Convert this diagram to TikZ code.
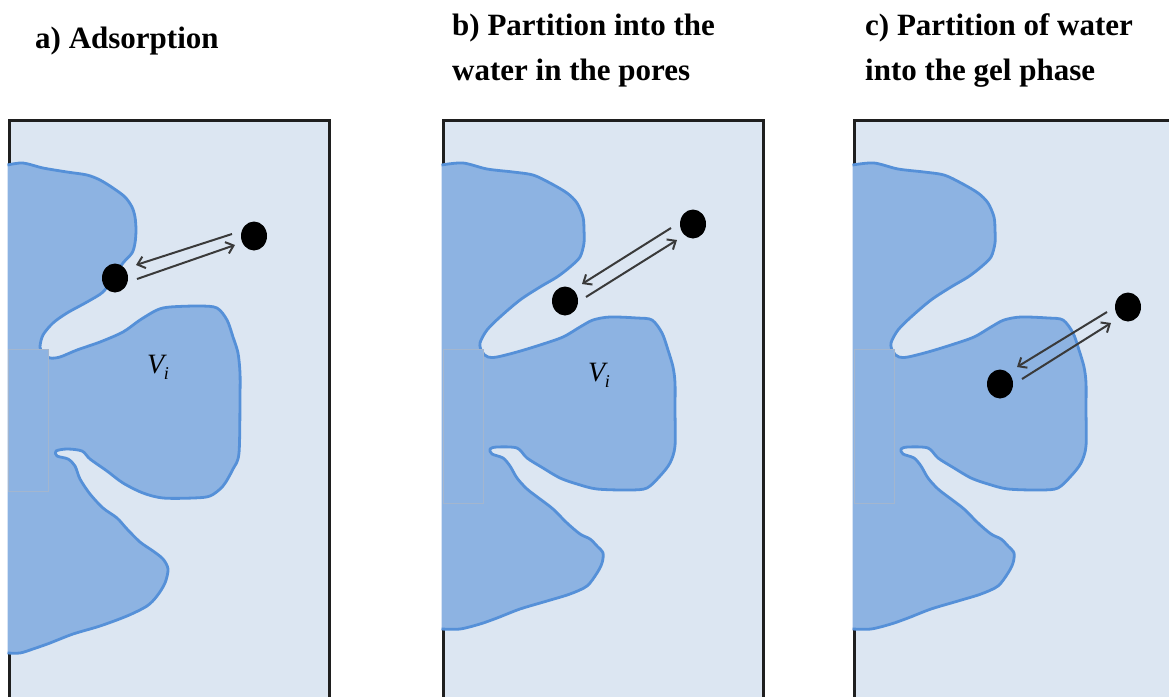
\documentclass[tikz,border=0pt]{standalone}
\usepackage{fontspec}
\setmainfont{Liberation Serif}
\usetikzlibrary{arrows.meta,shapes.geometric}

\definecolor{panelbg}{HTML}{DCE6F2}
\definecolor{gelfill}{HTML}{8DB3E2}
\definecolor{geledge}{HTML}{5590D8}
\definecolor{arrowgray}{HTML}{3A3A3A}
\definecolor{seamgray}{HTML}{A3B6CF}

\tikzset{
  panel/.style={fill=panelbg, draw=black!88, line width=3pt},
  gelbody/.style={fill=gelfill},
  geloutline/.style={draw=geledge, line width=2.8pt, line join=round},
  seam/.style={fill=gelfill, draw=seamgray, line width=0.5pt},
  solute/.style={ellipse, fill=black, draw=none, minimum width=26pt, minimum height=29pt, inner sep=0pt},
  flux/.style={draw=arrowgray, line width=2pt, -{Straight Barb[length=7pt,width=12pt]}},
  title/.style={font=\bfseries\fontsize{31}{36}\selectfont, anchor=base west, inner sep=0pt},
  vol/.style={font=\itshape\fontsize{28}{32}\selectfont, inner sep=0pt}
}

% gel particle of the first panel
\newcommand\gelA[1]{\path[#1] plot[smooth,tension=0.5] coordinates {
  (7.5,165) (23,163) (43,168) (67,172) (87,175) (100,180) (113,188) (125,197)
  (132,207) (135,217) (136,230) (135,243) (132,253) (123,263) (113,278)
  (103,292) (87,302) (67,313) (53,323) (43,335) (40,347) (43,354) (50,358)
  (60,357) (77,350) (100,342) (123,332) (140,320) (157,310) (170,307)
  (200,306) (217,308) (227,320) (233,337) (238,353) (240,373) (240,396)
  (239,453) (233,469) (223,486) (210,496) (193,498) (163,498) (143,493)
  (123,483) (107,471) (90,459) (82,451) (67,449) (56,451) (57,456) (68,459)
  (75,466) (80,479) (90,494) (103,508) (117,518) (127,529) (140,542)
  (153,551) (163,559) (168,569) (165,583) (157,596) (147,606) (127,616)
  (100,626) (73,634) (50,643) (33,649) (20,653) (7.5,653)};}

% gel particle of the second and third panels
\newcommand\gelB[1]{\path[#1] plot[smooth,tension=0.5] coordinates {
  (441.5,165) (463,163) (487,169) (513,172) (533,175) (550,183) (567,193)
  (577,203) (583,217) (584,230) (584,243) (580,257) (570,267) (557,277)
  (540,287) (520,300) (500,317) (487,330) (480,343) (482,352) (488,357)
  (497,357) (517,352) (540,345) (563,337) (580,327) (593,320) (610,317)
  (637,318) (652,320) (662,333) (668,350) (673,367) (675,383) (675,410)
  (675,446) (670,463) (660,476) (647,488) (630,490) (597,489) (577,484)
  (560,478) (543,468) (527,458) (517,448) (497,447) (490,449) (492,454)
  (503,458) (510,466) (517,478) (527,489) (540,499) (553,509) (567,523)
  (580,534) (590,539) (597,546) (603,553) (602,563) (597,573) (587,586)
  (570,594) (547,601) (520,609) (497,618) (480,624) (460,629) (441.5,629)};}

\begin{document}
\begin{tikzpicture}[x=1pt,y=-1pt]
  \useasboundingbox (0,0) rectangle (1169,696);
  \clip (0,0) rectangle (1169,696);

  % titles
  \node[title] (ta)  at (35,48)  {a) Adsorption};
  \node[title] (tb1) at (452,35) {b) Partition into the};
  \node[title] (tb2) at (452,80) {water in the pores};
  \node[title] (tc1) at (865,35) {c) Partition of water};
  \node[title] (tc2) at (865,80) {into the gel phase};

  % panel frames
  \draw[panel] (9,120) rectangle (329,720);
  \draw[panel] (443,120) rectangle (763,720);
  \draw[panel] (854,120) rectangle (1200,720);

  % gel particles
  \gelA{gelbody}
  \gelA{geloutline}
  \gelB{gelbody}
  \gelB{geloutline}
  \begin{scope}[xshift=411pt]
    \gelB{gelbody}
    \gelB{geloutline}
  \end{scope}

  % faint seams at the left edge
  \draw[seam] (8,349) rectangle (48,491);
  \draw[seam] (443,349) rectangle (483,503);
  \draw[seam] (854,349) rectangle (894,503);

  % pore volume labels
  \node[vol] (va) at (158,367) {V\kern-0.5pt\raisebox{-6pt}{\fontsize{18}{20}\selectfont i}};
  \node[vol] (vb) at (599,375) {V\kern-0.5pt\raisebox{-6pt}{\fontsize{18}{20}\selectfont i}};

  % a) adsorption
  \node[solute] (a1) at (115,278) {};
  \node[solute] (a2) at (254,236) {};
  \coordinate (a2out) at (232,234);
  \coordinate (a1in)  at (136,265);
  \coordinate (a1out) at (137,279);
  \coordinate (a2in)  at (235,245);
  \draw[flux] (a2out) -- (a1in);
  \draw[flux] (a1out) -- (a2in);

  % b) partition into pore water
  \node[solute] (b1) at (565,301) {};
  \node[solute] (b2) at (693,224) {};
  \coordinate (b2out) at (671,228);
  \coordinate (b1in)  at (582,284);
  \coordinate (b1out) at (586,297);
  \coordinate (b2in)  at (677,240);
  \draw[flux] (b2out) -- (b1in);
  \draw[flux] (b1out) -- (b2in);

  % c) partition into the gel phase
  \node[solute] (c1) at (1000,384) {};
  \node[solute] (c2) at (1128,307) {};
  \coordinate (c2out) at (1107,312);
  \coordinate (c1in)  at (1017,367);
  \coordinate (c1out) at (1022,379);
  \coordinate (c2in)  at (1111,323);
  \draw[flux] (c2out) -- (c1in);
  \draw[flux] (c1out) -- (c2in);
\end{tikzpicture}
\end{document}
